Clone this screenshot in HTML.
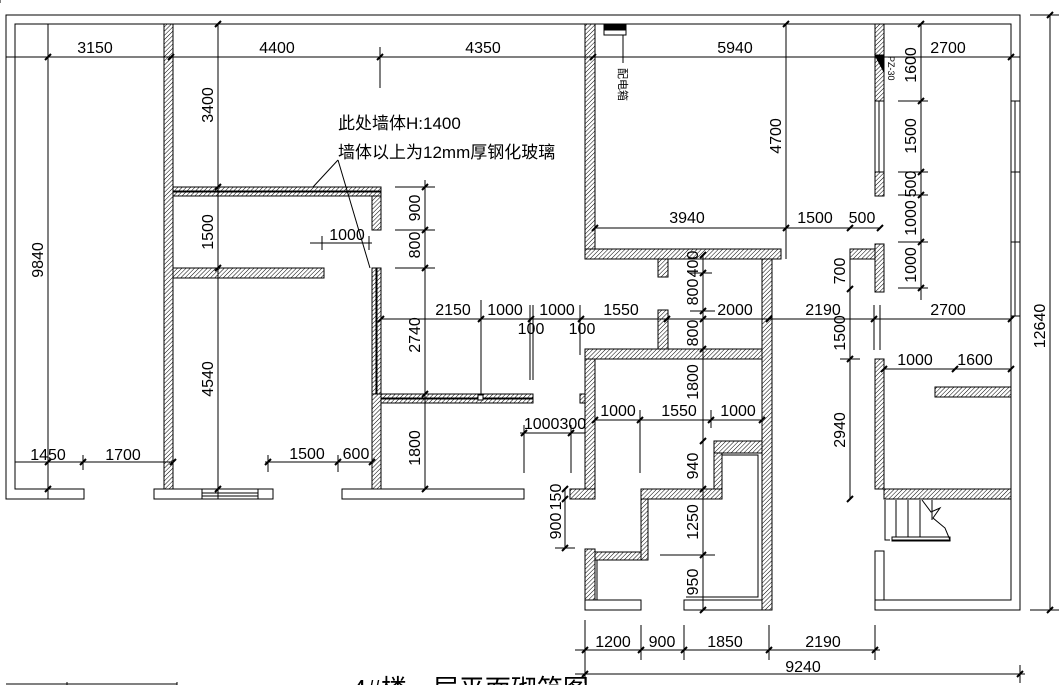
<!DOCTYPE html>
<html><head><meta charset="utf-8"><style>
html,body{margin:0;padding:0;background:#fff;width:1059px;height:685px;overflow:hidden}
svg{display:block}
text{font-family:"Liberation Sans","Noto Sans CJK SC",sans-serif;fill:#000}
</style></head><body>
<svg width="1059" height="685" viewBox="0 0 1059 685" xmlns="http://www.w3.org/2000/svg">
<defs>
<pattern id="h" width="3" height="3" patternUnits="userSpaceOnUse" patternTransform="rotate(45)">
<rect width="3" height="3" fill="#fff"/><line x1="0" y1="0" x2="0" y2="3" stroke="#000" stroke-width="1"/>
</pattern>
</defs>
<g fill="none" stroke="#000" stroke-width="1">
<path d="M6 15 H1020 V610 H875 V600 H1011 V24 H15 V489 H84 V499 H6 Z"/>
<rect x="154" y="489" width="119" height="10"/>
<rect x="202" y="489" width="56" height="10"/>
<line x1="202" y1="493" x2="258" y2="493"/><line x1="202" y1="496" x2="258" y2="496"/>
<rect x="342" y="489" width="182" height="10"/>
<rect x="1011" y="101" width="9" height="71"/><rect x="1011" y="172" width="9" height="70"/><rect x="1011" y="242" width="9" height="74"/>
<line x1="1015" y1="101" x2="1015" y2="316"/>
<path d="M585 600 H641 V610 H585 Z"/><path d="M684 600 H772 V610 H684 Z"/>
<path d="M595 359 H762 V600 H684"/><path d="M595 359 V489"/>
<path d="M597 600 V560 M641 600 H597"/>
<path d="M722 455 H758 V597 H686"/>
<rect x="875" y="551" width="9" height="49"/>
<line x1="884" y1="600" x2="1011" y2="600"/>
<path d="M885 500 V540 H890 M892 540 H950 L945 528 L933 518 L940 508 L931 512 L922 500"/>
<rect x="892" y="537" width="58" height="4"/>
<line x1="896" y1="500" x2="896" y2="537"/><line x1="908" y1="500" x2="908" y2="537"/><line x1="920" y1="500" x2="920" y2="537"/><line x1="932" y1="500" x2="932" y2="520"/>
</g>
<g fill="url(#h)" stroke="#000" stroke-width="1">
<rect x="164" y="24" width="9" height="465"/>
<rect x="173" y="187" width="208" height="4"/><rect x="173" y="192" width="208" height="4"/>
<rect x="372" y="196" width="9" height="34"/>
<rect x="173" y="268" width="151" height="10"/>
<rect x="372" y="268" width="4" height="126"/><rect x="377" y="268" width="4" height="126"/>
<rect x="372" y="394" width="9" height="95"/>
<rect x="381" y="394" width="152" height="4"/><rect x="381" y="399" width="152" height="4"/>
<rect x="585" y="24" width="10" height="225"/>
<rect x="585" y="249" width="196" height="10"/>
<rect x="658" y="259" width="10" height="18"/>
<rect x="762" y="259" width="10" height="351"/>
<rect x="658" y="310" width="10" height="39"/>
<rect x="585" y="349" width="177" height="10"/>
<rect x="585" y="359" width="10" height="130"/>
<rect x="580" y="394" width="5" height="9"/>
<rect x="570" y="489" width="25" height="10"/>
<rect x="585" y="549" width="10" height="51"/>
<rect x="714" y="441" width="48" height="12"/>
<rect x="714" y="453" width="8" height="36"/>
<rect x="641" y="489" width="81" height="10"/>
<rect x="641" y="499" width="7" height="61"/>
<rect x="595" y="552" width="46" height="8"/>
<rect x="875" y="24" width="9" height="77"/>
<rect x="875" y="172" width="9" height="24"/>
<rect x="875" y="244" width="9" height="48"/>
<rect x="850" y="249" width="25" height="10"/>
<rect x="875" y="359" width="9" height="130"/>
<rect x="884" y="489" width="127" height="10"/>
<rect x="935" y="387" width="76" height="10"/>
</g>
<g fill="none" stroke="#000" stroke-width="1">
<rect x="875" y="101" width="9" height="71"/><line x1="879" y1="101" x2="879" y2="172"/>
<polygon points="875,55 884,55 884,72" fill="#000"/>
<rect x="604" y="24" width="22" height="11"/><rect x="604" y="24" width="22" height="6" fill="#000"/>
<line x1="623" y1="35" x2="623" y2="63"/>
<line x1="6" y1="57" x2="1020" y2="57"/>
<line x1="48" y1="24" x2="48" y2="499"/>
<line x1="218" y1="24" x2="218" y2="499"/>
<line x1="380" y1="47" x2="380" y2="88"/>
<line x1="786" y1="24" x2="786" y2="259"/>
<line x1="425" y1="180" x2="425" y2="489"/>
<line x1="395" y1="187" x2="435" y2="187"/><line x1="395" y1="230" x2="435" y2="230"/><line x1="395" y1="268" x2="435" y2="268"/>
<line x1="310" y1="243" x2="372" y2="243"/><line x1="322" y1="236" x2="322" y2="250"/><line x1="369" y1="236" x2="369" y2="250"/>
<line x1="595" y1="228" x2="880" y2="228"/>
<line x1="381" y1="319" x2="1011" y2="319"/>
<line x1="481" y1="300" x2="481" y2="397"/>
<line x1="530" y1="305" x2="530" y2="380"/><line x1="533" y1="305" x2="533" y2="380"/>
<line x1="580" y1="305" x2="580" y2="355"/>
<line x1="703" y1="255" x2="703" y2="610"/>
<line x1="690" y1="273" x2="712" y2="273"/><line x1="690" y1="311" x2="715" y2="311"/>
<line x1="921" y1="24" x2="921" y2="300"/>
<line x1="898" y1="101" x2="928" y2="101"/><line x1="898" y1="172" x2="928" y2="172"/><line x1="898" y1="195" x2="928" y2="195"/><line x1="898" y1="242" x2="928" y2="242"/><line x1="898" y1="288" x2="928" y2="288"/>
<line x1="850" y1="259" x2="850" y2="499"/><line x1="840" y1="359" x2="860" y2="359"/>
<line x1="874" y1="305" x2="874" y2="350"/><line x1="880" y1="305" x2="880" y2="350"/>
<line x1="884" y1="369" x2="1011" y2="369"/>
<line x1="595" y1="420" x2="762" y2="420"/>
<line x1="640" y1="410" x2="640" y2="473"/><line x1="711" y1="410" x2="711" y2="428"/>
<line x1="520" y1="433" x2="585" y2="433"/><line x1="524" y1="425" x2="524" y2="473"/><line x1="571" y1="425" x2="571" y2="473"/>
<line x1="565" y1="489" x2="565" y2="548"/><line x1="555" y1="548" x2="575" y2="548"/>
<line x1="660" y1="555" x2="715" y2="555"/>
<line x1="15" y1="462" x2="173" y2="462"/><line x1="83" y1="455" x2="83" y2="470"/>
<line x1="265" y1="462" x2="372" y2="462"/><line x1="268" y1="455" x2="268" y2="472"/><line x1="338" y1="455" x2="338" y2="472"/>
<line x1="1050" y1="15" x2="1050" y2="610"/><line x1="1030" y1="15" x2="1059" y2="15"/><line x1="1030" y1="610" x2="1059" y2="610"/>
<line x1="585" y1="620" x2="585" y2="683"/><line x1="641" y1="625" x2="641" y2="660"/><line x1="684" y1="625" x2="684" y2="660"/><line x1="769" y1="625" x2="769" y2="660"/><line x1="875" y1="625" x2="875" y2="660"/>
<line x1="575" y1="650" x2="880" y2="650"/>
<line x1="575" y1="674" x2="1025" y2="674"/><line x1="1020" y1="665" x2="1020" y2="683"/>
<line x1="338" y1="160" x2="313" y2="187"/><line x1="338" y1="160" x2="370" y2="268"/>
<line x1="6" y1="684" x2="177" y2="684"/><line x1="67" y1="682" x2="67" y2="685"/><line x1="177" y1="682" x2="177" y2="685"/>
<line x1="0" y1="0" x2="0" y2="3"/>
</g>
<g stroke="#000" stroke-width="2">
<path d="M45 60 L51 54 M168 60 L174 54 M215 27 L221 21 M377 60 L383 54 M590 60 L596 54 M783 27 L789 21 M918 27 L924 21 M1008 60 L1014 54
M215 190 L221 184 M215 271 L221 265 M422 190 L428 184 M422 233 L428 227 M422 271 L428 265 M422 397 L428 391 M422 492 L428 486
M45 465 L51 459 M80 465 L86 459 M170 465 L176 459 M265 465 L271 459 M335 465 L341 459 M369 465 L375 459 M215 492 L221 486 M45 492 L51 486
M592 231 L598 225 M783 231 L789 225 M847 231 L853 225 M877 231 L883 225
M378 322 L384 316 M478 322 L484 316 M528 322 L534 316 M578 322 L584 316 M664 322 L670 316 M700 322 L706 316 M766 322 L772 316 M871 322 L877 316 M1008 322 L1014 316
M700 258 L706 252 M700 276 L706 270 M700 314 L706 308 M700 352 L706 346 M700 444 L706 438 M700 492 L706 486 M700 558 L706 552 M700 613 L706 607
M918 104 L924 98 M918 175 L924 169 M918 198 L924 192 M918 245 L924 239 M918 291 L924 285
M847 292 L853 286 M847 362 L853 356 M847 502 L853 496
M881 372 L887 366 M952 372 L958 366 M1008 372 L1014 366
M592 423 L598 417 M637 423 L643 417 M708 423 L714 417 M759 423 L765 417 M521 436 L527 430 M568 436 L574 430
M562 492 L568 486 M562 502 L568 496 M562 551 L568 545
M582 653 L588 647 M638 653 L644 647 M681 653 L687 647 M766 653 L772 647 M872 653 L878 647 M582 677 L588 671 M1017 677 L1023 671 M1047 18 L1053 12 M1047 613 L1053 607"/>
</g>
<rect x="478" y="395" width="5" height="5" fill="#fff" stroke="#000"/>
<g font-size="16">
<text x="95" y="53" text-anchor="middle">3150</text>
<text x="277" y="53" text-anchor="middle">4400</text>
<text x="483" y="53" text-anchor="middle">4350</text>
<text x="735" y="53" text-anchor="middle">5940</text>
<text x="948" y="53" text-anchor="middle">2700</text>
<text x="453" y="315" text-anchor="middle">2150</text>
<text x="505" y="315" text-anchor="middle">1000</text>
<text x="557" y="315" text-anchor="middle">1000</text>
<text x="531" y="334" text-anchor="middle">100</text>
<text x="582" y="334" text-anchor="middle">100</text>
<text x="621" y="315" text-anchor="middle">1550</text>
<text x="735" y="315" text-anchor="middle">2000</text>
<text x="823" y="315" text-anchor="middle">2190</text>
<text x="948" y="315" text-anchor="middle">2700</text>
<text x="347" y="240" text-anchor="middle">1000</text>
<text x="687" y="223" text-anchor="middle">3940</text>
<text x="815" y="223" text-anchor="middle">1500</text>
<text x="862" y="223" text-anchor="middle">500</text>
<text x="915" y="365" text-anchor="middle">1000</text>
<text x="975" y="365" text-anchor="middle">1600</text>
<text x="618" y="416" text-anchor="middle">1000</text>
<text x="679" y="416" text-anchor="middle">1550</text>
<text x="738" y="416" text-anchor="middle">1000</text>
<text x="555" y="429" text-anchor="middle">1000300</text>
<text x="48" y="460" text-anchor="middle">1450</text>
<text x="123" y="460" text-anchor="middle">1700</text>
<text x="307" y="459" text-anchor="middle">1500</text>
<text x="356" y="459" text-anchor="middle">600</text>
<text x="613" y="647" text-anchor="middle">1200</text>
<text x="662" y="647" text-anchor="middle">900</text>
<text x="725" y="647" text-anchor="middle">1850</text>
<text x="823" y="647" text-anchor="middle">2190</text>
<text x="803" y="672" text-anchor="middle">9240</text>
<g text-anchor="middle">
<text transform="translate(43,260) rotate(-90)">9840</text>
<text transform="translate(213,105) rotate(-90)">3400</text>
<text transform="translate(213,232) rotate(-90)">1500</text>
<text transform="translate(213,379) rotate(-90)">4540</text>
<text transform="translate(420,208) rotate(-90)">900</text>
<text transform="translate(420,245) rotate(-90)">800</text>
<text transform="translate(420,335) rotate(-90)">2740</text>
<text transform="translate(420,448) rotate(-90)">1800</text>
<text transform="translate(781,136) rotate(-90)">4700</text>
<text transform="translate(916,65) rotate(-90)">1600</text>
<text transform="translate(916,136) rotate(-90)">1500</text>
<text transform="translate(916,184) rotate(-90)">500</text>
<text transform="translate(916,218) rotate(-90)">1000</text>
<text transform="translate(916,265) rotate(-90)">1000</text>
<text transform="translate(698,264) rotate(-90)">400</text>
<text transform="translate(698,292) rotate(-90)">800</text>
<text transform="translate(698,333) rotate(-90)">800</text>
<text transform="translate(698,382) rotate(-90)">1800</text>
<text transform="translate(698,466) rotate(-90)">940</text>
<text transform="translate(698,522) rotate(-90)">1250</text>
<text transform="translate(698,582) rotate(-90)">950</text>
<text transform="translate(845,271) rotate(-90)">700</text>
<text transform="translate(845,333) rotate(-90)">1500</text>
<text transform="translate(845,430) rotate(-90)">2940</text>
<text transform="translate(561,497) rotate(-90)">150</text>
<text transform="translate(561,526) rotate(-90)">900</text>
<text transform="translate(1045,326) rotate(-90)">12640</text>
</g>
</g>
<text transform="translate(888,56) rotate(90)" font-size="9">PZ-30</text>
<text transform="translate(619,68) rotate(90)" font-size="11">配电箱</text>
<text x="338" y="129" font-size="17">此处墙体H:1400</text>
<text x="338" y="158" font-size="17">墙体以上为12mm厚钢化玻璃</text>
<text x="352" y="698" font-size="26">4#楼一层平面砌筑图</text>
</svg>
</body></html>
